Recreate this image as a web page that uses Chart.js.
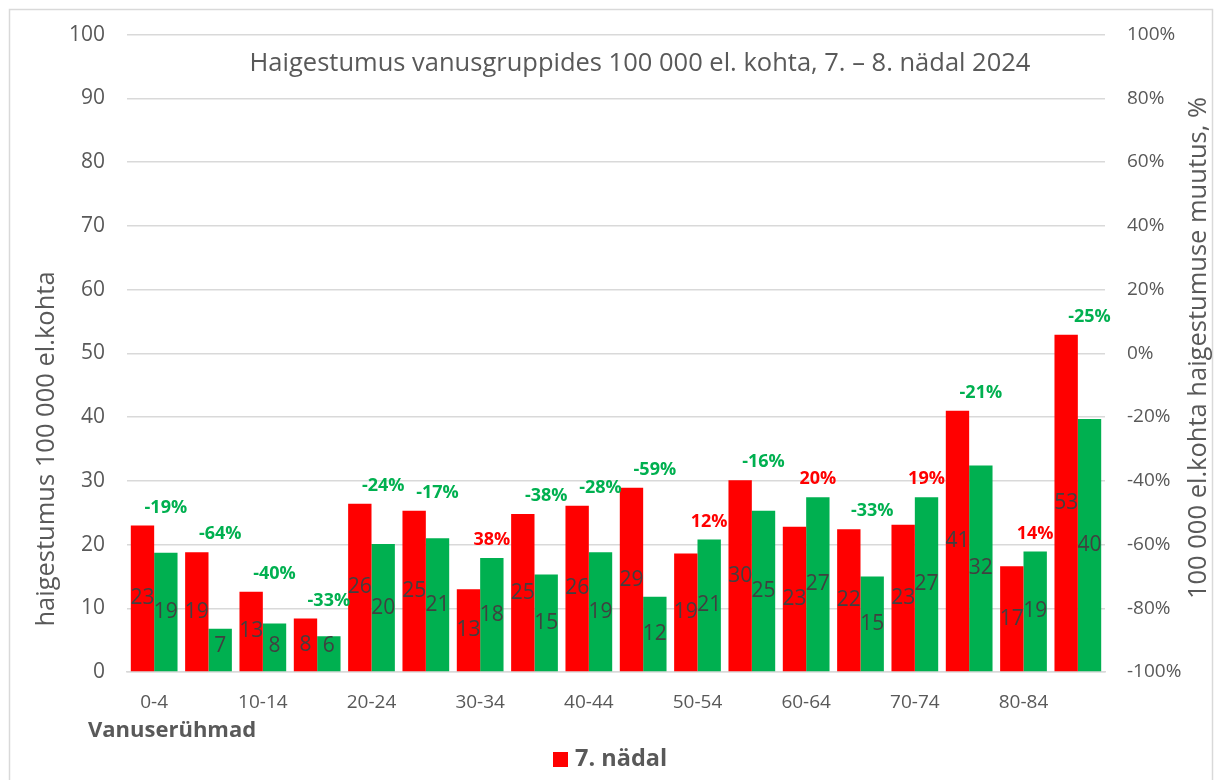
<!DOCTYPE html>
<html>
<head>
<meta charset="utf-8">
<script src="https://cdn.jsdelivr.net/npm/chart.js@4.4.1/dist/chart.umd.min.js"></script>
<style>
  html, body { margin: 0; padding: 0; background: #ffffff; overflow: hidden; }
  #wrap { width: 1215px; height: 780px; position: relative; }
</style>
</head>
<body>
<div id="wrap"><canvas id="c" width="1215" height="780"></canvas></div>
<script>
const categories = ['0-4','5-9','10-14','15-19','20-24','25-29','30-34','35-39','40-44','45-49','50-54','55-59','60-64','65-69','70-74','75-79','80-84','85+'];
const week7 = [23.0, 18.8, 12.6, 8.4, 26.4, 25.3, 13.0, 24.8, 26.1, 28.9, 18.6, 30.1, 22.8, 22.4, 23.1, 41.0, 16.6, 52.9];
const week8 = [18.7, 6.8, 7.6, 5.6, 20.1, 21.0, 17.9, 15.3, 18.8, 11.8, 20.8, 25.3, 27.4, 15.0, 27.4, 32.4, 18.9, 39.7];
const changePct = [-19, -64, -40, -33, -24, -17, 38, -38, -28, -59, 12, -16, 20, -33, 19, -21, 14, -25];
const leftTicks = [0, 10, 20, 30, 40, 50, 60, 70, 80, 90, 100];
const rightTicks = [-100, -80, -60, -40, -20, 0, 20, 40, 60, 80, 100];
const seriesNames = ['7. nädal', '8. nädal'];
const chartTitle = 'Haigestumus vanusgruppides 100 000 el. kohta, 7. – 8. nädal 2024';
const leftTitle = 'haigestumus 100 000 el.kohta';
const rightTitle = '100 000 el.kohta haigestumuse muutus, %';
const xTitle = 'Vanuserühmad';

const RED = '#FF0000', GREEN = '#00B050', TXT = '#595959';
const FONT = '"Open Sans", "DejaVu Sans", sans-serif';

const decor = {
  id: 'decor',
  beforeDraw(chart) {
    const ctx = chart.ctx;
    ctx.save();
    ctx.fillStyle = '#ffffff';
    ctx.fillRect(0, 0, chart.width, chart.height);
    ctx.strokeStyle = '#d9d9d9';
    ctx.lineWidth = 1.5;
    ctx.strokeRect(9.5, 9.5, chart.width - 12, chart.height + 20);
    ctx.restore();
  },
  afterDatasetsDraw(chart) {
    const ctx = chart.ctx;
    ctx.save();
    ctx.font = '21px ' + FONT;
    ctx.fillStyle = '#404040';
    ctx.textAlign = 'center';
    ctx.textBaseline = 'middle';
    chart.data.datasets.forEach((ds, di) => {
      const meta = chart.getDatasetMeta(di);
      meta.data.forEach((el, i) => {
        let cy = (el.y + el.base) / 2;
        cy = Math.min(cy, el.base - 25);
        ctx.fillText(String(Math.round(ds.data[i])), el.x, cy);
      });
    });
    const m0 = chart.getDatasetMeta(0), m1 = chart.getDatasetMeta(1);
    ctx.font = 'bold 18px ' + FONT;
    changePct.forEach((p, i) => {
      const top = Math.min(m0.data[i].y, m1.data[i].y);
      ctx.fillStyle = p < 0 ? GREEN : RED;
      ctx.fillText(p + '%', m1.data[i].x, top - 18);
    });
    ctx.restore();
  },
  afterDraw(chart) {
    const ctx = chart.ctx;
    ctx.save();
    ctx.fillStyle = TXT;
    ctx.textBaseline = 'middle';
    ctx.textAlign = 'center';
    ctx.font = '25.5px ' + FONT;
    ctx.fillText(chartTitle, 640, 64);
    ctx.save();
    ctx.translate(47, 449);
    ctx.rotate(-Math.PI / 2);
    ctx.font = '25.5px ' + FONT;
    ctx.fillText(leftTitle, 0, 0);
    ctx.restore();
    ctx.save();
    ctx.translate(1199, 348);
    ctx.rotate(-Math.PI / 2);
    ctx.font = '25.5px ' + FONT;
    ctx.fillText(rightTitle, 0, 0);
    ctx.restore();
    ctx.textAlign = 'left';
    ctx.font = 'bold 22px ' + FONT;
    ctx.fillText(xTitle, 88, 731);
    ctx.fillStyle = RED;
    ctx.fillRect(553, 752, 15, 15);
    ctx.fillStyle = TXT;
    ctx.font = 'bold 23.5px ' + FONT;
    ctx.fillText(seriesNames[0], 575, 759);
    ctx.restore();
  }
};

new Chart(document.getElementById('c'), {
  type: 'bar',
  data: {
    labels: categories,
    datasets: [
      { label: seriesNames[0], data: week7, backgroundColor: RED, yAxisID: 'y', categoryPercentage: 0.86, barPercentage: 1.0 },
      { label: seriesNames[1], data: week8, backgroundColor: GREEN, yAxisID: 'y', categoryPercentage: 0.86, barPercentage: 1.0 }
    ]
  },
  options: {
    responsive: false,
    animation: false,
    layout: { padding: { top: 23, left: 0, right: 0, bottom: 0 } },
    plugins: { legend: { display: false }, title: { display: false }, tooltip: { enabled: false } },
    scales: {
      x: {
        grid: { display: false },
        border: { display: true, color: '#d9d9d9', width: 1.5 },
        ticks: {
          autoSkip: false, maxRotation: 0, minRotation: 0,
          color: TXT, font: { family: FONT, size: 19 }, padding: 11,
          callback: function(v, i) { return i % 2 === 0 ? categories[i] : ''; }
        },
        afterFit(scale) { scale.height = 108; }
      },
      y: {
        position: 'left',
        min: leftTicks[0], max: leftTicks[leftTicks.length - 1],
        afterBuildTicks(scale) { scale.ticks = leftTicks.map(v => ({ value: v })); },
        grid: { color: '#d9d9d9', lineWidth: 1.4, drawTicks: false },
        border: { display: false },
        ticks: { color: TXT, font: { family: FONT, size: 21 }, padding: 22 },
        afterFit(scale) { scale.width = 127; }
      },
      y2: {
        position: 'right',
        min: -1, max: 1,
        afterBuildTicks(scale) { scale.ticks = rightTicks.map(v => ({ value: v / 100 })); },
        grid: { display: false, drawTicks: false },
        border: { display: false },
        ticks: { color: TXT, font: { family: FONT, size: 19 }, padding: 22,
          callback: v => Math.round(v * 100) + '%' },
        afterFit(scale) { scale.width = 110; }
      }
    }
  },
  plugins: [decor]
});
</script>
</body>
</html>
